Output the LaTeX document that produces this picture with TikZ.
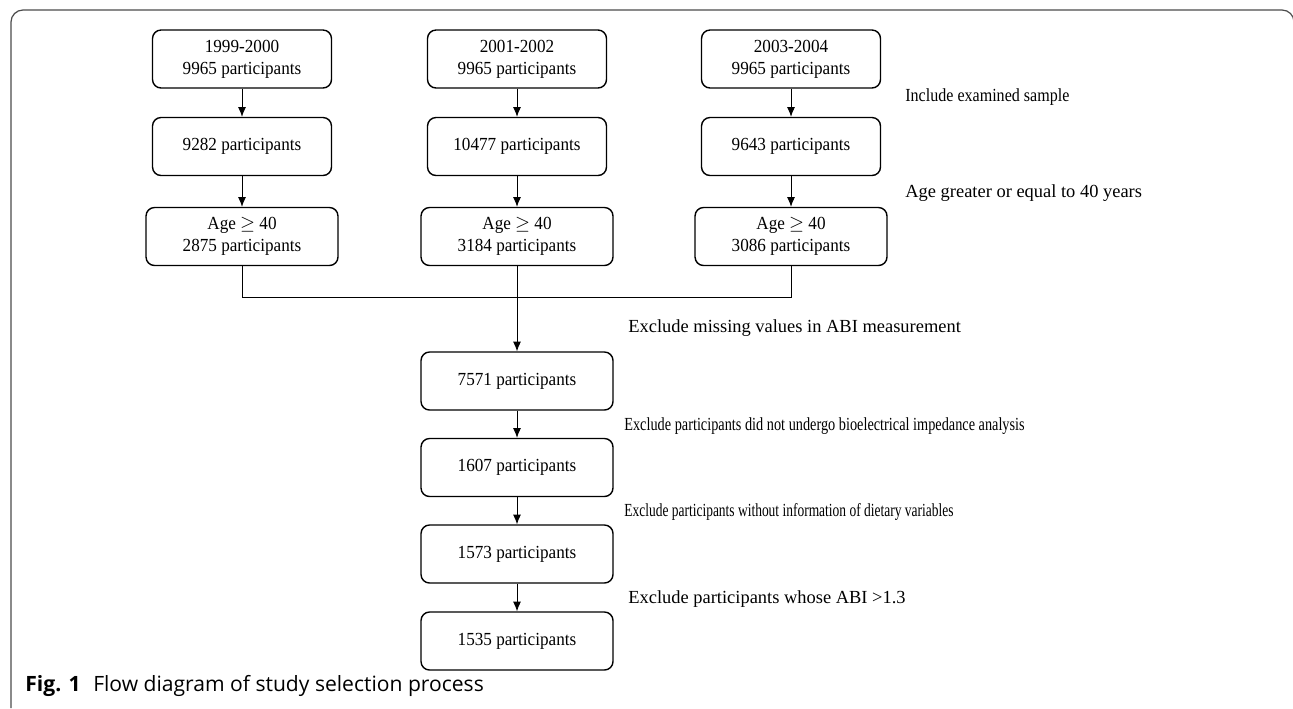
\documentclass[tikz,border=0pt]{standalone}
\usepackage{fontspec}
\setmainfont{Liberation Serif}
\newfontfamily\boxfont[FakeStretch=0.93]{Liberation Serif}
\newfontfamily\capfont{Open Sans}
\usepackage{amssymb}
\usetikzlibrary{arrows.meta}

\tikzset{
  box/.style={draw, line width=0.8pt, rounded corners=0.17cm, minimum width=3.58cm,
    minimum height=1.16cm, align=center, font=\boxfont\fontsize{10.5}{12.5}\selectfont, inner sep=2pt},
  widebox/.style={box, minimum width=3.84cm},
  note/.style={anchor=west, font=\fontsize{10.5}{12.5}\selectfont, inner sep=0pt},
  flow/.style={-{Latex[length=5.5pt,width=4.5pt]}, line width=0.5pt}
}

\begin{document}
\begin{tikzpicture}[x=0.02cm, y=-0.02cm]
  \useasboundingbox (0,0) rectangle (1293,708);
  % outer frame
  \draw[gray!60!black, line width=0.7pt, rounded corners=0.24cm] (11,708) -- (11,10) -- (1294,10) -- (1294,40);

  % three survey cycles
  \node[box] (top1) at (242,59) {1999-2000\\9965 participants};
  \node[box] (top2) at (517,59) {2001-2002\\9965 participants};
  \node[box] (top3) at (791,59) {2003-2004\\9965 participants};

  \node[box] (exam1) at (242,146.5) {9282 participants};
  \node[box] (exam2) at (517,146.5) {10477 participants};
  \node[box] (exam3) at (791,146.5) {9643 participants};

  \node[widebox] (age1) at (242,236.5) {Age $\geq$ 40\\2875 participants};
  \node[widebox] (age2) at (517,236.5) {Age $\geq$ 40\\3184 participants};
  \node[widebox] (age3) at (791,236.5) {Age $\geq$ 40\\3086 participants};

  \foreach \i in {1,2,3} {
    \draw[flow] (top\i) -- (exam\i);
    \draw[flow] (exam\i) -- (age\i);
  }

  % pooled sample
  \node[widebox] (abi) at (517,381) {7571 participants};
  \node[widebox] (bia) at (517,467.5) {1607 participants};
  \node[widebox] (diet) at (517,554) {1573 participants};
  \node[widebox] (final) at (517,641) {1535 participants};

  \coordinate (merge) at (517,297);
  \draw[line width=0.5pt] (age1.south) |- (merge) -| (age3.south);
  \draw[flow] (age2) -- (abi);
  \draw[flow] (abi) -- (bia);
  \draw[flow] (bia) -- (diet);
  \draw[flow] (diet) -- (final);

  % criteria
  \node[note] (n1) at (905,97) {\scalebox{0.87}[1]{Include examined sample}};
  \node[note] (n2) at (905,193) {Age greater or equal to 40 years};
  \node[note] (n3) at (628,328) {Exclude missing values in ABI measurement};
  \node[note] (n4) at (624,426) {\scalebox{0.775}[1]{Exclude participants did not undergo bioelectrical impedance analysis}};
  \node[note] (n5) at (624,512) {\scalebox{0.73}[1]{Exclude participants without information of dietary variables}};
  \node[note] (n6) at (628,599) {Exclude participants whose ABI >1.3};

  % caption
  \node[anchor=west, inner sep=0pt, font=\capfont\fontsize{12}{14}\selectfont] (cap) at (25,686)
    {\textbf{Fig. 1}\hspace{0.6em}Flow diagram of study selection process};
\end{tikzpicture}
\end{document}
